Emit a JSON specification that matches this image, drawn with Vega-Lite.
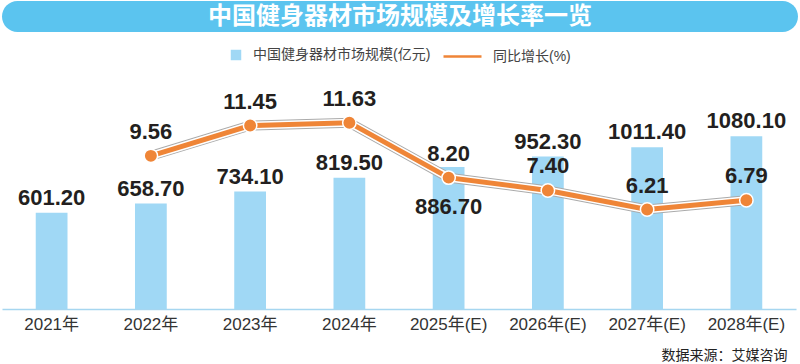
{
  "$schema": "https://vega.github.io/schema/vega-lite/v6.json",
  "padding": {"left": 2, "top": 1, "right": 0, "bottom": 0},
  "background": "white",
  "config": {"view": {"stroke": null}, "font": "Liberation Sans, Noto Sans CJK SC"},
  "spacing": 8,
  "vconcat": [
    {
      "width": 796,
      "height": 31,
      "view": {"fill": "#5BC4EF", "stroke": null, "cornerRadius": 15.5},
      "data": {"values": [{"t": "中国健身器材市场规模及增长率一览"}]},
      "mark": {"type": "text", "color": "white", "fontSize": 24, "fontWeight": "bold", "font": "Noto Sans CJK SC", "baseline": "middle", "align": "center"},
      "encoding": {"text": {"field": "t"}}
    },
    {
      "width": 794,
      "height": 269,
      "data": {
        "values": [
          {"year": "2021年", "size": 601.2, "growth": null},
          {"year": "2022年", "size": 658.7, "growth": 9.56},
          {"year": "2023年", "size": 734.1, "growth": 11.45},
          {"year": "2024年", "size": 819.5, "growth": 11.63},
          {"year": "2025年(E)", "size": 886.7, "growth": 8.20},
          {"year": "2026年(E)", "size": 952.3, "growth": 7.40},
          {"year": "2027年(E)", "size": 1011.4, "growth": 6.21},
          {"year": "2028年(E)", "size": 1080.1, "growth": 6.79}
        ]
      },
      "encoding": {
        "x": {
          "field": "year", "type": "nominal", "sort": null,
          "scale": {"paddingInner": 0.68, "paddingOuter": 0.34},
          "axis": {
            "title": "数据来源：艾媒咨询", "titleFontSize": 14, "titleFontWeight": "normal", "titleColor": "#222",
            "titleAnchor": "end", "titleAlign": "right", "titleX": 785, "titleY": 46, "titleBaseline": "middle",
            "labelFontSize": 17, "labelColor": "#333", "labelPadding": 7, "labelAngle": 0,
            "ticks": false, "domainColor": "#A6D6F0", "domainWidth": 1.5, "grid": false
          }
        }
      },
      "layer": [
        {
          "mark": {"type": "bar"},
          "encoding": {
            "y": {"field": "size", "type": "quantitative", "scale": {"domain": [0, 1681]}, "axis": null},
            "fill": {
              "datum": "中国健身器材市场规模(亿元)",
              "scale": {"range": ["#A0D8F5"]},
              "legend": {"orient": "none", "legendX": 227, "legendY": 47, "title": null, "symbolType": "square", "symbolSize": 110, "labelFontSize": 14, "labelColor": "#444", "labelOffset": 10, "labelLimit": 300}
            }
          }
        },
        {
          "transform": [{"filter": "datum.year != '2025年(E)'"}],
          "mark": {"type": "text", "dy": -8, "baseline": "alphabetic", "fontSize": 22, "fontWeight": "bold", "color": "#231F20"},
          "encoding": {
            "y": {"field": "size", "type": "quantitative", "scale": {"domain": [0, 1681]}, "axis": null},
            "text": {"field": "size", "type": "quantitative", "format": ".2f"}
          }
        },
        {
          "transform": [{"filter": "datum.year == '2025年(E)'"}],
          "mark": {"type": "text", "dy": 47, "baseline": "alphabetic", "fontSize": 22, "fontWeight": "bold", "color": "#231F20"},
          "encoding": {
            "y": {"field": "size", "type": "quantitative", "scale": {"domain": [0, 1681]}, "axis": null},
            "text": {"field": "size", "type": "quantitative", "format": ".2f"}
          }
        },
        {
          "mark": {"type": "line", "stroke": "#AAAAAA", "strokeWidth": 10},
          "encoding": {"y": {"field": "growth", "type": "quantitative", "scale": {"domain": [0, 16.79]}, "axis": null}}
        },
        {
          "mark": {"type": "line", "stroke": "#FFFFFF", "strokeWidth": 8},
          "encoding": {"y": {"field": "growth", "type": "quantitative", "scale": {"domain": [0, 16.79]}, "axis": null}}
        },
        {
          "mark": {"type": "line", "strokeWidth": 5},
          "encoding": {
            "y": {"field": "growth", "type": "quantitative", "scale": {"domain": [0, 16.79]}, "axis": null},
            "stroke": {
              "datum": "同比增长(%)",
              "scale": {"range": ["#EF8537"]},
              "legend": {"orient": "none", "legendX": 440, "legendY": 35, "title": null, "symbolType": "stroke", "symbolSize": 1444, "symbolStrokeWidth": 2.5, "labelFontSize": 14, "labelColor": "#444", "labelOffset": 10, "labelLimit": 300}
            }
          }
        },
        {
          "mark": {"type": "point", "shape": "circle", "filled": true, "size": 180, "fill": "#EF8537", "stroke": "#FFFFFF", "strokeWidth": 1.5, "opacity": 1},
          "encoding": {"y": {"field": "growth", "type": "quantitative", "scale": {"domain": [0, 16.79]}, "axis": null}}
        },
        {
          "mark": {"type": "text", "dy": -17, "baseline": "alphabetic", "fontSize": 22, "fontWeight": "bold", "color": "#231F20"},
          "encoding": {
            "y": {"field": "growth", "type": "quantitative", "scale": {"domain": [0, 16.79]}, "axis": null},
            "text": {"field": "growth", "type": "quantitative", "format": ".2f"}
          }
        }
      ],
      "resolve": {"scale": {"y": "independent"}}
    }
  ]
}
